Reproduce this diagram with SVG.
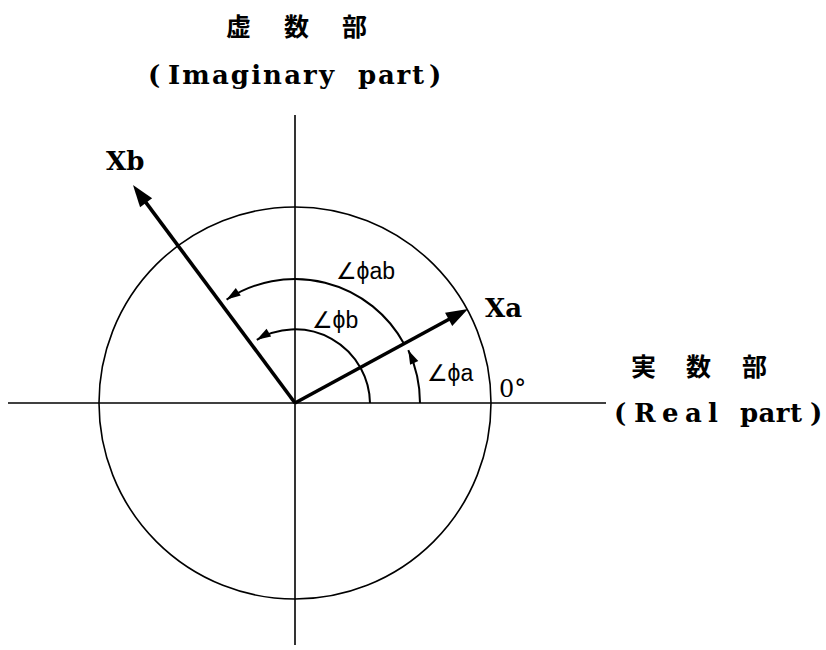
<svg xmlns="http://www.w3.org/2000/svg" width="826" height="650" viewBox="0 0 826 650">
<style>
.axis{stroke:#000;stroke-width:1.6;fill:none}
.vec{stroke:#000;stroke-width:3.6;fill:none}
.arc{stroke:#000;stroke-width:2;fill:none}
.cjk{font-family:"Noto Sans CJK JP","Noto Sans CJK SC",sans-serif;font-size:25px;font-weight:bold;fill:#000}
.ser{font-family:"DejaVu Serif","Liberation Serif",serif;font-size:26px;font-weight:bold;fill:#000}
.num{font-family:"DejaVu Serif","Liberation Serif",serif;font-size:24px;fill:#000}
.lab{font-family:"Liberation Sans","DejaVu Sans",sans-serif;font-size:23px;fill:#000}
</style>
<defs>
<marker id="big" markerUnits="userSpaceOnUse" markerWidth="30" markerHeight="20" refX="2" refY="0" viewBox="0 -10 30 20" orient="auto" overflow="visible">
<path d="M0,-7.5 L22,0 L0,7.5 Z" fill="#000"/>
</marker>
<marker id="small" markerUnits="userSpaceOnUse" markerWidth="20" markerHeight="12" refX="0" refY="0" viewBox="-16 -6 20 12" orient="auto" overflow="visible">
<path d="M0,0 L-14,-4.5 L-14,4.5 Z" fill="#000"/>
</marker>
</defs>
<g id="axes">
<line class="axis" x1="8" y1="403" x2="606" y2="403"/>
<line class="axis" x1="295" y1="115" x2="295" y2="645"/>
</g>
<g id="circle">
<circle class="axis" cx="295" cy="403" r="196"/>
</g>
<g id="connectors">
<line class="vec" x1="295" y1="403" x2="450.4" y2="318.5" marker-end="url(#big)"/>
<line class="vec" x1="295" y1="403" x2="144.9" y2="201.1" marker-end="url(#big)"/>
<path class="arc" d="M370,403 A75,75 0 0 0 256.8,339.8" marker-end="url(#small)"/>
<path class="arc" d="M404,343.8 A124,124 0 0 0 226.6,299.6" marker-end="url(#small)"/>
<path class="arc" d="M420,403 A125,125 0 0 0 408.3,350.2" marker-end="url(#small)"/>
</g>
<g id="title-imag">
<text class="cjk"><tspan x="226" y="36">虚</tspan><tspan x="284" y="36">数</tspan><tspan x="342" y="36">部</tspan></text>
<text class="ser" y="84"><tspan x="148">(</tspan><tspan x="168" textLength="166" lengthAdjust="spacing">Imaginary</tspan><tspan x="358" textLength="66" lengthAdjust="spacing">part</tspan><tspan x="429">)</tspan></text>
</g>
<g id="title-real">
<text class="cjk"><tspan x="631" y="376">実</tspan><tspan x="686" y="376">数</tspan><tspan x="742" y="376">部</tspan></text>
<text class="ser" y="422"><tspan x="614">(</tspan><tspan x="634" textLength="84" lengthAdjust="spacing">Real</tspan><tspan x="740" textLength="62" lengthAdjust="spacing">part</tspan><tspan x="810">)</tspan></text>
</g>
<g id="node-Xa"><text class="ser" x="485" y="317">Xa</text></g>
<g id="node-Xb"><text class="ser" x="106" y="170">Xb</text></g>
<g id="node-0deg"><text class="num" x="499" y="397">0°</text></g>
<g id="label-phia"><text class="lab" x="427" y="381">∠ϕa</text></g>
<g id="label-phib"><text class="lab" x="312" y="328">∠ϕb</text></g>
<g id="label-phiab"><text class="lab" x="336" y="279">∠ϕab</text></g>
</svg>
